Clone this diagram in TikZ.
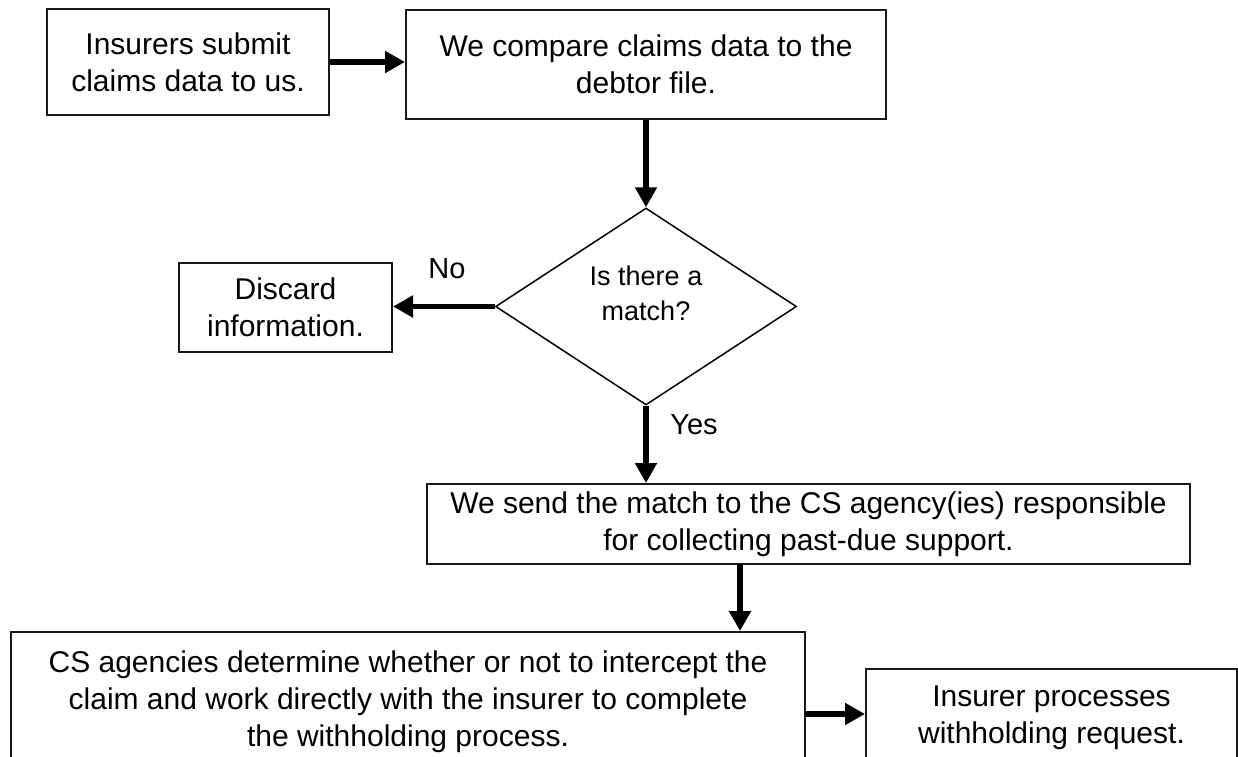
\documentclass[tikz,border=0pt]{standalone}
\usepackage{fontspec}
\setmainfont{Liberation Sans}
\usetikzlibrary{shapes.geometric,arrows.meta}

\tikzset{
  stepbox/.style={draw=black!90,line width=2pt,inner sep=0pt,align=center,
    font=\fontsize{30}{37}\selectfont},
  choice/.style={draw,diamond,line width=1.5pt,inner sep=0pt,
    minimum width=301pt,minimum height=197pt},
  asktext/.style={align=center,inner sep=0pt,font=\fontsize{27}{35}\selectfont},
  answer/.style={font=\fontsize{29}{35}\selectfont},
  flow/.style={line width=5.5pt,-{Triangle[length=20pt,width=21pt]}}
}

\begin{document}
\begin{tikzpicture}[x=1pt,y=-1pt]
\useasboundingbox (0,0) rectangle (1238,756);
\clip (0,0) rectangle (1238,756);
\begin{scope}
\node[stepbox,minimum width=282pt,minimum height=106pt] (submit) at (188,62) {Insurers submit\\claims data to us.};
\node[stepbox,minimum width=480pt,minimum height=109pt] (compare) at (646,64.5) {We compare claims data to the\\debtor file.};
\node[choice] (match) at (646,306.5) {};
\node[asktext] (ask) at (646,293) {Is there a\\match?};
\node[stepbox,minimum width=213pt,minimum height=89pt] (discard) at (285.5,307.5) {Discard\\information.};
\node[stepbox,minimum width=763pt,minimum height=80pt] (send) at (808.5,524) {We send the match to the CS agency(ies) responsible\\for collecting past-due support.};
\node[stepbox,minimum width=794pt,minimum height=140pt] (agencies) at (408,702) {CS agencies determine whether or not to intercept the\\claim and work directly with the insurer to complete\\the withholding process.};
\node[stepbox,minimum width=371pt,minimum height=98pt] (insurer) at (1051.5,718) {Insurer processes\\withholding request.};

\node[answer] (no) at (447,269) {No};
\node[answer] (yes) at (694,425) {Yes};

\coordinate (sendout) at (740,564);
\coordinate (agout) at (805,714);

\draw[flow] (submit.east) -- (submit.east -| compare.west);
\draw[flow] (compare.south) -- (match.north);
\draw[flow] (match.west) -- (match.west -| discard.east);
\draw[flow] (match.south) -- (match.south |- send.north);
\draw[flow] (sendout) -- (sendout |- agencies.north);
\draw[flow] (agout) -- (agout -| insurer.west);
\end{scope}
\end{tikzpicture}
\end{document}
